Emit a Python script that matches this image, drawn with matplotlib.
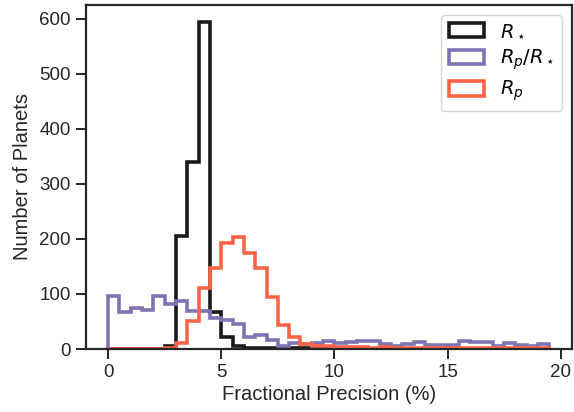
import numpy as np
import matplotlib
matplotlib.use("Agg")
import matplotlib.pyplot as plt

# bin edges (fractional precision, %)
bin_edges = np.arange(0, 20.0, 0.5)  # 0 .. 19.5 -> 39 bins

r_star = [0, 0, 0, 0, 0, 6, 205, 340, 595, 68, 22, 5, 2, 1, 1, 1, 1, 1,
          0, 0, 0, 0, 0, 0, 0, 0, 0, 0, 0, 0, 0, 0, 0, 0, 0, 0, 0, 0, 0]
rp_rstar = [97, 67, 74, 71, 97, 82, 87, 69, 69, 56, 53, 45, 21, 25, 16, 6, 11, 9,
            10, 15, 11, 12, 14, 15, 9, 6, 9, 12, 8, 7, 8, 14, 12, 12, 5, 10, 8, 6, 9]
r_p = [0, 0, 0, 0, 0, 1, 10, 50, 110, 147, 193, 203, 174, 147, 94, 44, 21, 9,
       5, 5, 3, 3, 3, 2, 3, 2, 2, 2, 2, 2, 2, 2, 2, 2, 2, 2, 2, 2, 2]

labels = [r"$R_\star$", r"$R_p/R_\star$", r"$R_p$"]
colors = ["#1a1a1a", "#8172B3", "#FF6347"]

plt.rcParams['font.family'] = ['Liberation Sans', 'DejaVu Sans']
plt.rcParams['mathtext.fontset'] = 'dejavusans'

fig = plt.figure(figsize=(5.74, 4.12), dpi=100)
ax = fig.add_axes([86 / 574, 63 / 412, (571.5 - 86) / 574, (349 - 5) / 412])

centers = bin_edges[:-1] + 0.25
for vals, lab, col in zip([r_star, rp_rstar, r_p], labels, colors):
    ax.hist(centers, bins=bin_edges, weights=vals, histtype='step',
            color=col, lw=2.6, label=lab)

ax.set_xlim(-0.975, 20.475)
ax.set_ylim(0, 625)
ax.set_xticks([0, 5, 10, 15, 20])
ax.set_yticks([0, 100, 200, 300, 400, 500, 600])
ax.tick_params(direction='out', length=7, width=1.4, labelsize=13.5, colors='#262626', pad=4)
for s in ax.spines.values():
    s.set_linewidth(1.6)
    s.set_color('#262626')
ax.set_xlabel("Fractional Precision (%)", fontsize=14.5, color='#262626', labelpad=3)
ax.set_ylabel("Number of Planets", fontsize=14.5, color='#262626', labelpad=5)

leg = ax.legend(loc='upper right', fontsize=14, frameon=True, fancybox=True,
                handlelength=1.8, handleheight=0.8, borderpad=0.4, labelspacing=0.35)
leg.get_frame().set_edgecolor('#cccccc')
leg.get_frame().set_linewidth(1.0)

fig.savefig("out.png", dpi=100)
